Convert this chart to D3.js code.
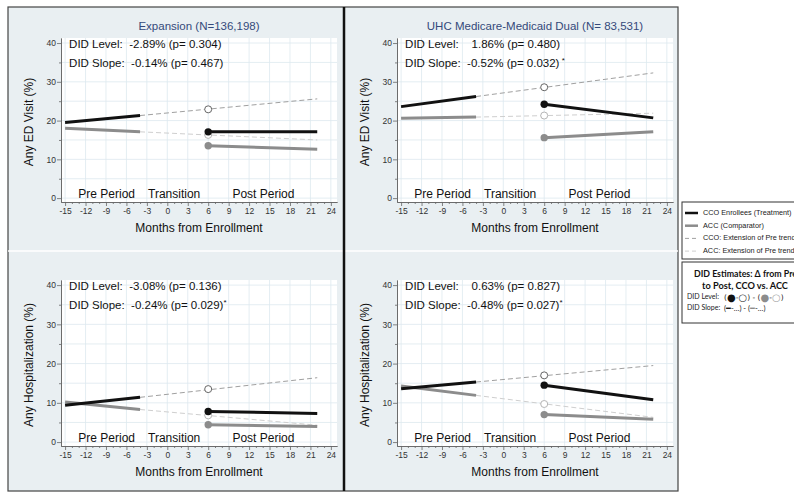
<!DOCTYPE html>
<html>
<head>
<meta charset="utf-8">
<script src="https://cdn.jsdelivr.net/npm/d3@7"></script>
<style>
  body { margin: 0; background: #fff; }
  svg { display: block; font-family: "Liberation Sans", Arial, sans-serif; }
  .axis text { font-size: 8.5px; fill: #333; }
  .axis path, .axis line { stroke: #666; stroke-width: 0.8; }
  .pre { white-space: pre; }
</style>
</head>
<body>
<div id="chart"></div>
<script>
const panelTitles = ["Expansion (N=136,198)", "UHC Medicare-Medicaid Dual (N= 83,531)"];
const outcomeLabels = ["Any ED Visit (%)", "Any Hospitalization (%)"];
const xTitle = "Months from Enrollment";
const periodLabels = ["Pre Period", "Transition", "Post Period"];
const periodCenters = [-8.9, 1, 14.1];

const xTickValues = [-15, -12, -9, -6, -3, 0, 3, 6, 9, 12, 15, 18, 21, 24];
const xMinorTicks = [-14, -13, -11, -10, -8, -7, -5, -4, -2, -1, 1, 2, 4, 5, 7, 8, 10, 11, 13, 14, 16, 17, 19, 20, 22, 23];
const yTickValues = [0, 10, 20, 30, 40];
const yMinorTicks = [5, 15, 25, 35];

const preMonths = [-15, -4];
const extMonths = [-4, 22];
const postMonths = [6, 22];
const markMonth = 6;

// panel order: ED/Expansion, ED/Dual, Hospitalization/Expansion, Hospitalization/Dual
const ccoPre = [[19.5, 21.3], [23.6, 26.2], [9.4, 11.4], [13.6, 15.3]];
const ccoExt = [[21.3, 25.6], [26.2, 32.3], [11.4, 16.4], [15.3, 19.5]];
const ccoPost = [[17.1, 17.1], [24.2, 20.7], [7.8, 7.3], [14.5, 10.8]];
const ccoProjected = [22.9, 28.6, 13.5, 17.0];

const accPre = [[18.0, 17.1], [20.6, 20.9], [10.2, 8.3], [14.3, 11.9]];
const accExt = [[17.1, 15.0], [20.9, 21.9], [8.3, 4.3], [11.9, 6.3]];
const accPost = [[13.5, 12.6], [15.6, 17.1], [4.4, 4.0], [7.0, 5.8]];
const accProjected = [16.3, 21.3, 6.8, 9.7];

const didLevel = ["DID Level:  -2.89% (p= 0.304)", "DID Level:    1.86% (p= 0.480)",
                  "DID Level:  -3.08% (p= 0.136)", "DID Level:    0.63% (p= 0.827)"];
const didSlope = ["DID Slope:  -0.14% (p= 0.467)", "DID Slope:  -0.52% (p= 0.032)",
                  "DID Slope:  -0.24% (p= 0.029)", "DID Slope:  -0.48% (p= 0.027)"];
const didStar = ["", " *", "*", "*"];

const legendLabels = ["CCO Enrollees (Treatment)", "ACC (Comparator)",
                      "CCO: Extension of Pre trend", "ACC: Extension of Pre trend"];
const didBoxTitle = ["DID Estimates: \u0394 from Pre", "to Post, CCO vs. ACC"];

const black = "#111", gray = "#8c8c8c";

const svg = d3.select("#chart").append("svg")
  .attr("width", 794)
  .attr("height", 494);

// panel background and frame
svg.append("rect")
  .attr("x", 8).attr("y", 7).attr("width", 670).attr("height", 484)
  .attr("fill", "#e9eff2").attr("stroke", "#444").attr("stroke-width", 1.2);
svg.append("line")
  .attr("x1", 8).attr("x2", 678).attr("y1", 251).attr("y2", 251)
  .attr("stroke", "#fff").attr("stroke-width", 1.5);
svg.append("line")
  .attr("x1", 344).attr("x2", 344).attr("y1", 7).attr("y2", 491)
  .attr("stroke", "#111").attr("stroke-width", 2.5);

const plotTops = [38, 280];
const plotBottoms = [202, 446];

const line = d3.line();

for (let p = 0; p < 4; p++) {
  const col = p % 2, row = Math.floor(p / 2);
  const cx = col * 336;
  const pTop = plotTops[row], pBot = plotBottoms[row];

  const x = d3.scaleLinear().domain([-15.6, 24.9]).range([61 + cx, 337 + cx]);
  const y = d3.scaleLinear().domain([-1, 41.3]).range([pBot, pTop]);

  const g = svg.append("g");

  g.append("rect")
    .attr("x", x.range()[0]).attr("y", pTop)
    .attr("width", x.range()[1] - x.range()[0]).attr("height", pBot - pTop)
    .attr("fill", "#fff");

  // grid
  g.selectAll(".vgrid").data(xTickValues).enter().append("line")
    .attr("x1", d => x(d)).attr("x2", d => x(d))
    .attr("y1", pTop).attr("y2", pBot)
    .attr("stroke", "#dde8ef").attr("stroke-width", 0.8);
  g.selectAll(".hgrid").data(yTickValues.concat(yMinorTicks)).enter().append("line")
    .attr("x1", x.range()[0]).attr("x2", x.range()[1])
    .attr("y1", d => y(d)).attr("y2", d => y(d))
    .attr("stroke", "#dde8ef").attr("stroke-width", 0.8);

  // axes
  g.append("g").attr("class", "axis")
    .attr("transform", `translate(0,${pBot})`)
    .call(d3.axisBottom(x).tickValues(xMinorTicks).tickSize(2).tickSizeOuter(0).tickFormat(""));
  g.append("g").attr("class", "axis")
    .attr("transform", `translate(0,${pBot})`)
    .call(d3.axisBottom(x).tickValues(xTickValues).tickSize(4).tickSizeOuter(0)
      .tickPadding(2).tickFormat(d => String(d)));
  g.append("g").attr("class", "axis")
    .attr("transform", `translate(${x.range()[0]},0)`)
    .call(d3.axisLeft(y).tickValues(yMinorTicks).tickSize(2).tickSizeOuter(0).tickFormat(""));
  g.append("g").attr("class", "axis")
    .attr("transform", `translate(${x.range()[0]},0)`)
    .call(d3.axisLeft(y).tickValues(yTickValues).tickSize(4).tickSizeOuter(0)
      .tickPadding(1).tickFormat(d => String(d)));

  // titles
  if (row === 0) {
    g.append("text")
      .attr("x", (x.range()[0] + x.range()[1]) / 2).attr("y", 27)
      .attr("text-anchor", "middle").attr("dominant-baseline", "middle")
      .attr("font-size", 11.5).attr("fill", "#34497a")
      .text(panelTitles[col]);
  }
  g.append("text")
    .attr("transform", `translate(${30 + cx},${(pTop + pBot) / 2 + 2}) rotate(-90)`)
    .attr("text-anchor", "middle").attr("dominant-baseline", "middle")
    .attr("font-size", 12).attr("fill", "#111")
    .text(outcomeLabels[row]);
  g.append("text")
    .attr("x", (x.range()[0] + x.range()[1]) / 2).attr("y", pBot + 27)
    .attr("text-anchor", "middle").attr("dominant-baseline", "middle")
    .attr("font-size", 12).attr("fill", "#111")
    .text(xTitle);

  // period labels
  g.selectAll(".period").data(periodLabels).enter().append("text")
    .attr("x", (d, i) => x(periodCenters[i])).attr("y", y(0) - 3)
    .attr("text-anchor", "middle").attr("dominant-baseline", "middle")
    .attr("font-size", 12).attr("fill", "#111")
    .text(d => d);

  // DID text
  g.append("text").attr("class", "pre")
    .attr("x", x(-15) + 4).attr("y", y(40) + 2)
    .attr("dominant-baseline", "middle").attr("font-size", 11.5).attr("fill", "#111")
    .text(didLevel[p]);
  const slope = g.append("text").attr("class", "pre")
    .attr("x", x(-15) + 4).attr("y", y(40) + 21)
    .attr("dominant-baseline", "middle").attr("font-size", 11.5).attr("fill", "#111");
  slope.append("tspan").text(didSlope[p]);
  slope.append("tspan").attr("font-size", 8).attr("dy", -3).text(didStar[p]);

  // extensions of pre trend
  g.append("path")
    .attr("d", line(extMonths.map((m, i) => [x(m), y(accExt[p][i])])))
    .attr("fill", "none").attr("stroke", "#cfcfcf").attr("stroke-width", 1)
    .attr("stroke-dasharray", "5,3");
  g.append("path")
    .attr("d", line(extMonths.map((m, i) => [x(m), y(ccoExt[p][i])])))
    .attr("fill", "none").attr("stroke", "#a0a0a0").attr("stroke-width", 1)
    .attr("stroke-dasharray", "5,3");

  // observed segments
  [[accPre, gray], [accPost, gray], [ccoPre, black], [ccoPost, black]].forEach(([series, color], k) => {
    const months = k % 2 === 0 ? preMonths : postMonths;
    g.append("path")
      .attr("d", line(months.map((m, i) => [x(m), y(series[p][i])])))
      .attr("fill", "none").attr("stroke", color).attr("stroke-width", 3);
  });

  // markers at month 6
  g.append("circle").attr("cx", x(markMonth)).attr("cy", y(accProjected[p])).attr("r", 3.5)
    .attr("fill", "#fff").attr("stroke", "#b5b5b5").attr("stroke-width", 1);
  g.append("circle").attr("cx", x(markMonth)).attr("cy", y(ccoProjected[p])).attr("r", 3.5)
    .attr("fill", "#fff").attr("stroke", "#666").attr("stroke-width", 1);
  g.append("circle").attr("cx", x(markMonth)).attr("cy", y(accPost[p][0])).attr("r", 3.7)
    .attr("fill", gray);
  g.append("circle").attr("cx", x(markMonth)).attr("cy", y(ccoPost[p][0])).attr("r", 3.7)
    .attr("fill", black);
}

// legend
const legend = svg.append("g");
legend.append("rect")
  .attr("x", 682).attr("y", 202).attr("width", 130).attr("height", 57)
  .attr("fill", "#fff").attr("stroke", "#333").attr("stroke-width", 1);
const legendStyles = [
  { color: black, width: 2.5, dash: null },
  { color: gray, width: 2.5, dash: null },
  { color: "#a0a0a0", width: 1, dash: "4,3" },
  { color: "#cfcfcf", width: 1, dash: "4,3" }
];
legendLabels.forEach((label, i) => {
  const ly = 213 + i * 12.7;
  legend.append("line")
    .attr("x1", 685).attr("x2", 698).attr("y1", ly).attr("y2", ly)
    .attr("stroke", legendStyles[i].color).attr("stroke-width", legendStyles[i].width)
    .attr("stroke-dasharray", legendStyles[i].dash);
  legend.append("text")
    .attr("x", 703).attr("y", ly).attr("dominant-baseline", "middle")
    .attr("font-size", 7.3).attr("fill", "#222")
    .text(label);
});

// DID estimates box
const did = svg.append("g").attr("font-family", "Lato, 'Open Sans', sans-serif");
did.append("rect")
  .attr("x", 682).attr("y", 262).attr("width", 130).attr("height", 61)
  .attr("fill", "#fff").attr("stroke", "#333").attr("stroke-width", 1);
did.append("text")
  .attr("x", 694).attr("y", 275)
  .attr("dominant-baseline", "middle")
  .attr("font-size", 8.8).attr("font-weight", "bold").attr("fill", "#111")
  .text(didBoxTitle[0]);
did.append("text")
  .attr("x", 745).attr("y", 287)
  .attr("text-anchor", "middle").attr("dominant-baseline", "middle")
  .attr("font-size", 9.2).attr("font-weight", "bold").attr("fill", "#111")
  .text(didBoxTitle[1]);
did.append("text").attr("x", 687).attr("y", 297.5).attr("dominant-baseline", "middle")
  .attr("font-size", 7).attr("fill", "#222").text("DID Level:");
did.append("text").attr("x", 687).attr("y", 308.5).attr("dominant-baseline", "middle")
  .attr("font-size", 7).attr("fill", "#222").text("DID Slope:");

const levelSym = did.append("text").attr("x", 724).attr("y", 297.5)
  .attr("dominant-baseline", "middle").attr("font-size", 7.5).attr("fill", "#222");
[["(", "#222", 7.5], ["\u25CF", black, 10], ["-", "#222", 7.5], ["\u25CB", "#444", 10], [") - (", "#222", 7.5],
 ["\u25CF", gray, 10], ["-", "#222", 7.5], ["\u25CB", "#aaa", 10], [")", "#222", 7.5]]
  .forEach(([t, c, s]) => levelSym.append("tspan").attr("fill", c).attr("font-size", s)
    .attr("font-family", "'DejaVu Sans', sans-serif").text(t));

const slopeSym = did.append("text").attr("x", 724).attr("y", 308.5)
  .attr("dominant-baseline", "middle").attr("font-size", 7.5).attr("fill", "#222");
[["(", "#222"], ["\u2501", black], ["-\u2026) - (", "#222"], ["\u2501", gray], ["-\u2026)", "#222"]]
  .forEach(([t, c]) => slopeSym.append("tspan").attr("fill", c).text(t));
</script>
</body>
</html>
